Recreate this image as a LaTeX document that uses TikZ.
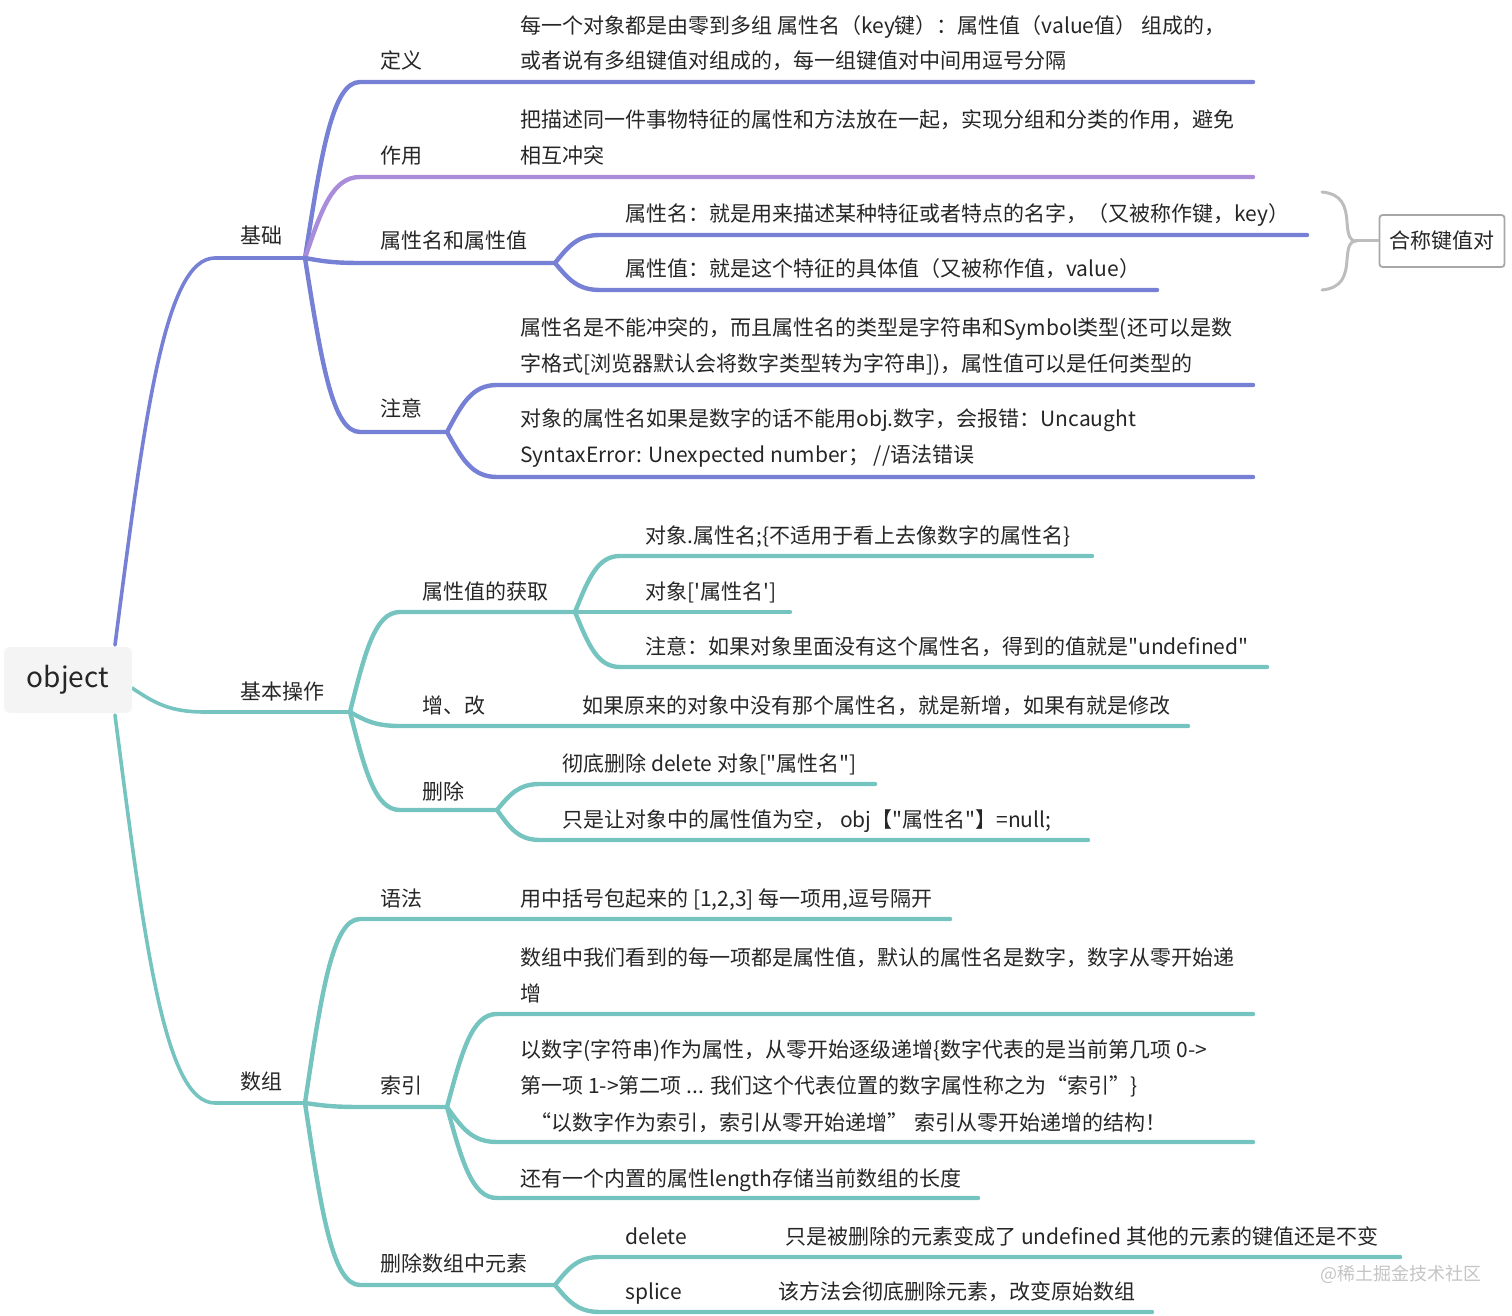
\documentclass[tikz,border=0pt]{standalone}
\usepackage{fontspec}
\newfontfamily\cjk{Noto Sans CJK SC}
\usetikzlibrary{calc}
\definecolor{cblue}{HTML}{7680D4}
\definecolor{cteal}{HTML}{76C4C0}
\definecolor{cpurp}{HTML}{A98CDA}
\definecolor{ctext}{HTML}{262626}
\definecolor{cgray}{HTML}{BDBDBD}
\definecolor{cboxline}{HTML}{A8A8A8}
\definecolor{croot}{HTML}{F4F4F4}
\definecolor{cwm}{HTML}{C4C4C4}
\newcommand\mmcurve[4]{%
  \draw[#1] let \p1=(#2), \p2=(#3) in (\p1)
    .. controls ({\x1+0.3*(\x2-\x1)},{\y1+0.6*(\y2-\y1)}) and ({\x1+0.5*(\x2-\x1)},\y2) .. (\p2) -- (#4);}
\tikzset{
  lbl/.style={anchor=base west, inner sep=0pt, yshift=-1pt, font=\cjk\fontsize{10.5}{12}\selectfont, text=ctext},
  rootline/.style={line width=1.8pt, line cap=round},
  subline/.style={line width=2.2pt, line cap=round},
  bl/.style={subline, draw=cblue},
  pl/.style={subline, draw=cpurp},
  tl/.style={subline, draw=cteal},
  rootbox/.style={fill=croot, rounded corners=3pt, minimum width=64pt, minimum height=33pt,
    inner sep=0pt, font=\cjk\fontsize{14}{16}\selectfont, text=ctext},
  keybox/.style={draw=cboxline, line width=0.9pt, fill=white, rounded corners=1.5pt,
    minimum width=62.5pt, minimum height=26pt, inner sep=0pt,
    font=\cjk\fontsize{10.5}{12}\selectfont, text=ctext},
  wm/.style={anchor=base west, inner sep=0pt, font=\cjk\fontsize{9}{11}\selectfont, text=cwm}
}
\begin{document}
\begin{tikzpicture}[x=0.5pt,y=-0.5pt]
\useasboundingbox (0,0) rectangle (1512,1316);

% ---------- coordinates ----------
\coordinate (r1) at (115,645);
\coordinate (r2) at (132,688);
\coordinate (r3) at (115,715);
\coordinate (kJ) at (215,258);  \coordinate (hJ) at (305,258);
\coordinate (kB) at (205,712);  \coordinate (hB) at (350,712);
\coordinate (kS) at (215,1103); \coordinate (hS) at (305,1103);
% basics
\coordinate (k11) at (360,82);   \coordinate (e11) at (1253,82);
\coordinate (k12) at (360,177);  \coordinate (e12) at (1253,177);
\coordinate (k13) at (360,263);  \coordinate (hP) at (555,263);
\coordinate (k14) at (360,432);  \coordinate (hZ) at (447,432);
\coordinate (k131) at (600,235); \coordinate (e131) at (1307,235);
\coordinate (k132) at (600,290); \coordinate (e132) at (1157,290);
\coordinate (k141) at (497,385); \coordinate (e141) at (1253,385);
\coordinate (k142) at (497,477); \coordinate (e142) at (1253,477);
% operations
\coordinate (k21) at (400,612);  \coordinate (hG) at (575,612);
\coordinate (k22) at (400,726);  \coordinate (e22) at (1188,726);
\coordinate (k23) at (400,810);  \coordinate (hD) at (497,810);
\coordinate (k211) at (620,556); \coordinate (e211) at (1092,556);
\coordinate (e212) at (790,612);
\coordinate (k213) at (620,667); \coordinate (e213) at (1267,667);
\coordinate (k231) at (540,784); \coordinate (e231) at (875,784);
\coordinate (k232) at (540,840); \coordinate (e232) at (1088,840);
% arrays
\coordinate (k31) at (360,919);  \coordinate (e31) at (950,919);
\coordinate (k32) at (360,1107); \coordinate (hI) at (447,1107);
\coordinate (k33) at (360,1285); \coordinate (hR) at (555,1285);
\coordinate (k321) at (497,1014); \coordinate (e321) at (1253,1014);
\coordinate (k322) at (497,1142); \coordinate (e322) at (1253,1142);
\coordinate (k323) at (497,1198); \coordinate (e323) at (978,1198);
\coordinate (k331) at (600,1257); \coordinate (e331) at (1400,1257);
\coordinate (k332) at (600,1312); \coordinate (e332) at (1152,1312);

% ---------- connectors ----------
\mmcurve{rootline, draw=cblue}{r1}{kJ}{hJ}
\mmcurve{rootline, draw=cteal}{r2}{kB}{hB}
\mmcurve{rootline, draw=cteal}{r3}{kS}{hS}

\mmcurve{bl}{hJ}{k11}{e11}
\mmcurve{pl}{hJ}{k12}{e12}
\mmcurve{bl}{hJ}{k13}{hP}
\mmcurve{bl}{hJ}{k14}{hZ}
\mmcurve{bl}{hP}{k131}{e131}
\mmcurve{bl}{hP}{k132}{e132}
\mmcurve{bl}{hZ}{k141}{e141}
\mmcurve{bl}{hZ}{k142}{e142}

\mmcurve{tl}{hB}{k21}{hG}
\mmcurve{tl}{hB}{k22}{e22}
\mmcurve{tl}{hB}{k23}{hD}
\mmcurve{tl}{hG}{k211}{e211}
\draw[tl] (hG) -- (e212);
\mmcurve{tl}{hG}{k213}{e213}
\mmcurve{tl}{hD}{k231}{e231}
\mmcurve{tl}{hD}{k232}{e232}

\mmcurve{tl}{hS}{k31}{e31}
\mmcurve{tl}{hS}{k32}{hI}
\mmcurve{tl}{hS}{k33}{hR}
\mmcurve{tl}{hI}{k321}{e321}
\mmcurve{tl}{hI}{k322}{e322}
\mmcurve{tl}{hI}{k323}{e323}
\mmcurve{tl}{hR}{k331}{e331}
\mmcurve{tl}{hR}{k332}{e332}

% ---------- root ----------
\node[rootbox] (root) at (68,680) {object};

% ---------- level 1 labels ----------
\node[lbl] (nJ) at (240,242) {基础};
\node[lbl] (nB) at (240,697) {基本操作};
\node[lbl] (nS) at (240,1087) {数组};

% ---------- basics ----------
\node[lbl] (n11) at (380,67) {定义};
\node[lbl] (t11a) at (520,32) {每一个对象都是由零到多组 属性名（key键）：属性值（value值） 组成的，};
\node[lbl] (t11b) at (520,67) {或者说有多组键值对组成的，每一组键值对中间用逗号分隔};
\node[lbl] (n12) at (380,162) {作用};
\node[lbl] (t12a) at (520,126) {把描述同一件事物特征的属性和方法放在一起，实现分组和分类的作用，避免};
\node[lbl] (t12b) at (520,162) {相互冲突};
\node[lbl] (n13) at (380,247) {属性名和属性值};
\node[lbl] (t131) at (625,220) {属性名：就是用来描述某种特征或者特点的名字，（又被称作键，key）};
\node[lbl] (t132) at (625,275) {属性值：就是这个特征的具体值（又被称作值，value）};
\node[lbl] (n14) at (380,415) {注意};
\node[lbl] (t141a) at (520,334) {属性名是不能冲突的，而且属性名的类型是字符串和Symbol类型(还可以是数};
\node[lbl] (t141b) at (520,370) {字格式[浏览器默认会将数字类型转为字符串])，属性值可以是任何类型的};
\node[lbl] (t142a) at (520,425) {对象的属性名如果是数字的话不能用obj.数字，会报错：Uncaught};
\node[lbl] (t142b) at (520,461) {SyntaxError: Unexpected number；   //语法错误};

% key-value brace and box
\node[keybox] (kv) at (1442,241) {合称键值对};
\coordinate (br1) at (1322,192);
\coordinate (br2) at (1322,290);
\coordinate (brm) at (1356,241);
\draw[cgray, line width=1.5pt, line cap=round]
  (br1) .. controls (1342,194) and (1346,206) .. (1347,222)
        .. controls (1348,236) and (1350,241) .. (brm)
        .. controls (1350,241) and (1348,246) .. (1347,260)
        .. controls (1346,276) and (1342,288) .. (br2);
\draw[cgray, line width=1.5pt] (brm) -- (kv.west);

% ---------- operations ----------
\node[lbl] (n21) at (422,597) {属性值的获取};
\node[lbl] (t211) at (645,542) {对象.属性名;\{不适用于看上去像数字的属性名\}};
\node[lbl] (t212) at (645,597) {对象['属性名']};
\node[lbl] (t213) at (645,652) {注意：如果对象里面没有这个属性名，得到的值就是"undefined"};
\node[lbl] (n22) at (422,711) {增、改};
\node[lbl] (t22) at (582,711) {如果原来的对象中没有那个属性名，就是新增，如果有就是修改};
\node[lbl] (n23) at (422,797) {删除};
\node[lbl] (t231) at (562,769) {彻底删除 delete 对象["属性名"]};
\node[lbl] (t232) at (562,825) {只是让对象中的属性值为空， obj【"属性名"】=null;};

% ---------- arrays ----------
\node[lbl] (n31) at (380,904) {语法};
\node[lbl] (t31) at (520,904) {用中括号包起来的 [1,2,3] 每一项用,逗号隔开};
\node[lbl] (n32) at (380,1091) {索引};
\node[lbl] (t321a) at (520,963) {数组中我们看到的每一项都是属性值，默认的属性名是数字，数字从零开始递};
\node[lbl] (t321b) at (520,999) {增};
\node[lbl] (t322a) at (520,1055) {以数字(字符串)作为属性，从零开始逐级递增\{数字代表的是当前第几项 0->};
\node[lbl] (t322b) at (520,1091) {第一项 1->第二项 ... 我们这个代表位置的数字属性称之为“索引”\}};
\node[lbl] (t322c) at (530,1128) {“以数字作为索引，索引从零开始递增”\hspace{3pt}索引从零开始递增的结构！};
\node[lbl] (t323) at (520,1184) {还有一个内置的属性length存储当前数组的长度};
\node[lbl] (n33) at (380,1269) {删除数组中元素};
\node[lbl] (t331a) at (625,1242) {delete};
\node[lbl] (t331b) at (785,1242) {只是被删除的元素变成了 undefined 其他的元素的键值还是不变};
\node[lbl] (t332a) at (625,1297) {splice};
\node[lbl] (t332b) at (778,1297) {该方法会彻底删除元素，改变原始数组};

% watermark
\node[wm] (wmk) at (1320,1280) {@稀土掘金技术社区};
\end{tikzpicture}
\end{document}
